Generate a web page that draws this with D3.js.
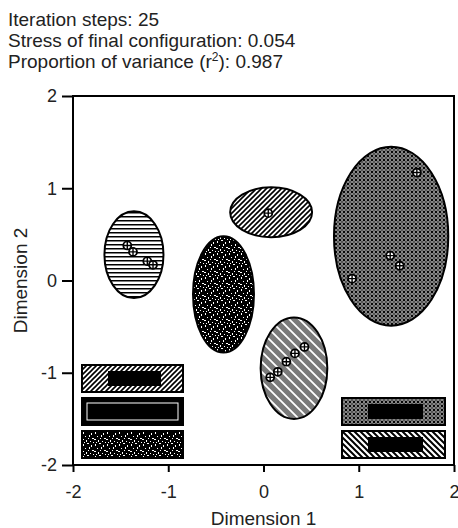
<!DOCTYPE html>
<html>
<head>
<meta charset="utf-8">
<script src="https://cdn.jsdelivr.net/npm/d3@7"></script>
<style>
  body { margin: 0; background: #fff; }
  svg { display: block; font-family: "Liberation Sans", Arial, sans-serif; }
</style>
</head>
<body>
<div id="chart-container"></div>
<script>
// Summary text above the plot
const infoLines = [
  "Iteration steps: 25",
  "Stress of final configuration: 0.054",
  ["Proportion of variance (r", "2", "): 0.987"]
];

const ticks = [-2, -1, 0, 1, 2];

// Cluster ellipses (centre and half-widths in dimension units)
const clusterPattern = ["hstripe", "speckle", "diag", "mesh", "dither"];
const clusterX  = [-1.36, -0.42, 0.08, 1.34, 0.32];
const clusterY  = [0.28, -0.15, 0.74, 0.48, -0.95];
const clusterRx = [0.31, 0.32, 0.43, 0.60, 0.35];
const clusterRy = [0.47, 0.63, 0.27, 0.97, 0.55];

// Stimulus points inside the clusters
const pointX = [-1.43, -1.37, -1.22, -1.16, 0.05, 1.61, 1.33, 1.43, 0.93, 0.07, 0.15, 0.24, 0.33, 0.43];
const pointY = [0.38, 0.31, 0.21, 0.17, 0.73, 1.17, 0.27, 0.16, 0.02, -1.05, -0.99, -0.88, -0.79, -0.72];

// Legend boxes (garbled labels in the original), two columns
const legendPattern = ["diag", "hstripe", "speckle", "mesh", "rdiag"];
const legendCol = [0, 0, 0, 1, 1];
const legendRow = [0, 1, 2, 1, 2];

const width = 458, height = 528;
const svg = d3.select("#chart-container").append("svg")
  .attr("width", width).attr("height", height);

const x = d3.scaleLinear().domain([-2, 2]).range([73, 454]);
const y = d3.scaleLinear().domain([-2, 2]).range([465, 96]);

// ---- patterns ----
const defs = svg.append("defs");

function tile(id, w, h) {
  return defs.append("pattern").attr("id", id)
    .attr("patternUnits", "userSpaceOnUse").attr("width", w).attr("height", h);
}

let p = tile("hstripe", 4, 4);
p.append("rect").attr("width", 4).attr("height", 4).attr("fill", "#fff");
p.append("rect").attr("width", 4).attr("height", 1.5).attr("fill", "#000");

p = tile("diag", 5, 5);
p.append("rect").attr("width", 5).attr("height", 5).attr("fill", "#fff");
p.append("path").attr("d", "M-1,6 L6,-1 M-1,1 L1,-1 M4,6 L6,4")
  .attr("stroke", "#000").attr("stroke-width", 1.6);

p = tile("rdiag", 6, 6);
p.append("rect").attr("width", 6).attr("height", 6).attr("fill", "#fff");
p.append("path").attr("d", "M-1,-1 L7,7 M-1,5 L1,7 M5,-1 L7,1")
  .attr("stroke", "#000").attr("stroke-width", 2);

p = tile("speckle", 12, 12);
p.append("rect").attr("width", 12).attr("height", 12).attr("fill", "#000");
[[1, 1, 1, 2], [5, 0, 2, 1], [9, 2, 1, 2], [3, 5, 1, 1], [7, 4, 1, 2], [10, 7, 2, 1],
 [0, 8, 2, 1], [4, 9, 1, 2], [8, 10, 1, 1], [6, 7, 1, 1], [2, 11, 1, 1], [11, 11, 1, 1]]
  .forEach(r => p.append("rect").attr("x", r[0]).attr("y", r[1])
    .attr("width", r[2]).attr("height", r[3]).attr("fill", "#fff"));

p = tile("mesh", 4, 4);
p.append("rect").attr("width", 4).attr("height", 4).attr("fill", "#000");
p.append("circle").attr("cx", 2).attr("cy", 2).attr("r", 1.4)
  .attr("fill", "none").attr("stroke", "#fff").attr("stroke-width", 0.7);

p = tile("dither", 10, 10);
p.append("rect").attr("width", 10).attr("height", 10).attr("fill", "#7a7a7a");
p.append("path").attr("d", "M-1,-1 L11,11 M-1,9 L1,11 M9,-1 L11,1")
  .attr("stroke", "#fff").attr("stroke-width", 1.8);

// ---- summary text ----
const info = svg.append("g").attr("font-size", 19).attr("fill", "#222");
info.append("text").attr("x", 8).attr("y", 26).text(infoLines[0]);
info.append("text").attr("x", 8).attr("y", 47).text(infoLines[1]);
const t3 = info.append("text").attr("x", 8).attr("y", 68);
t3.append("tspan").text(infoLines[2][0]);
t3.append("tspan").attr("font-size", 12).attr("dy", -7).text(infoLines[2][1]);
t3.append("tspan").attr("dy", 7).text(infoLines[2][2]);

// ---- clusters ----
const clusters = clusterX.map((cx, i) => ({
  cx, cy: clusterY[i], rx: clusterRx[i], ry: clusterRy[i], pat: clusterPattern[i]
}));

svg.append("g").selectAll("ellipse").data(clusters).join("ellipse")
  .attr("cx", d => x(d.cx))
  .attr("cy", d => y(d.cy))
  .attr("rx", d => x(d.rx) - x(0))
  .attr("ry", d => y(0) - y(d.ry))
  .attr("fill", d => `url(#${d.pat})`)
  .attr("stroke", "#000").attr("stroke-width", 2);

// ---- points ----
const pts = svg.append("g").selectAll("g").data(pointX.map((px, i) => [px, pointY[i]])).join("g")
  .attr("transform", d => `translate(${x(d[0])},${y(d[1])})`);
pts.append("circle").attr("r", 4).attr("fill", "#fff").attr("stroke", "#000").attr("stroke-width", 1.8);
pts.append("path").attr("d", "M-4,0H4M0,-4V4").attr("stroke", "#000").attr("stroke-width", 1.4);

// ---- legend boxes ----
const colX = [82, 342], boxW = [101, 103];
const rowY = [365, 398, 431], boxH = 27;
const legend = svg.append("g").selectAll("g").data(legendPattern.map((pat, i) => ({
  pat, col: legendCol[i], row: legendRow[i]
}))).join("g")
  .attr("transform", d => `translate(${colX[d.col]},${rowY[d.row]})`);
legend.append("rect")
  .attr("width", d => boxW[d.col]).attr("height", boxH)
  .attr("fill", d => d.pat === "hstripe" ? "#000" : `url(#${d.pat})`)
  .attr("stroke", "#000").attr("stroke-width", 2);
const wide = d => d.pat === "speckle" || d.pat === "hstripe";
legend.append("rect")
  .attr("x", d => wide(d) ? 4 : 26)
  .attr("y", d => wide(d) ? 4 : 6)
  .attr("width", d => wide(d) ? boxW[d.col] - 8 : boxW[d.col] - 48)
  .attr("height", d => wide(d) ? boxH - 8 : boxH - 12)
  .attr("fill", d => d.pat === "speckle" ? "url(#speckle)" : "#000");
legend.filter(d => d.pat === "hstripe").append("rect")
  .attr("x", 5).attr("y", 5).attr("width", 91).attr("height", 17)
  .attr("fill", "none").attr("stroke", "#fff").attr("stroke-width", 1);

// ---- frame & axes ----
svg.append("rect").attr("x", x(-2)).attr("y", y(2))
  .attr("width", x(2) - x(-2)).attr("height", y(-2) - y(2))
  .attr("fill", "none").attr("stroke", "#000").attr("stroke-width", 2);

const xAxis = svg.append("g").attr("transform", `translate(0,${y(-2)})`)
  .call(d3.axisBottom(x).tickValues(ticks).tickSize(7).tickPadding(13).tickFormat(d3.format("d")));
const yAxis = svg.append("g").attr("transform", `translate(${x(-2)},0)`)
  .call(d3.axisLeft(y).tickValues(ticks).tickSize(11).tickPadding(5).tickFormat(d3.format("d")));
[xAxis, yAxis].forEach(a => {
  a.select(".domain").remove();
  a.selectAll(".tick line").attr("stroke", "#000").attr("stroke-width", 2);
  a.selectAll(".tick text").attr("font-size", 18).attr("fill", "#222")
    .attr("font-family", "'Liberation Sans', Arial, sans-serif")
    .text(d => d < 0 ? "-" + Math.abs(d) : d);
});
// keep the last x label inside the window
xAxis.selectAll(".tick text").filter(d => d === 2).attr("text-anchor", "end").attr("dx", 5);

svg.append("text").attr("x", x(0)).attr("y", 525).attr("text-anchor", "middle")
  .attr("font-size", 19).attr("fill", "#222").text("Dimension 1");
svg.append("text").attr("transform", `translate(27,${y(0)}) rotate(-90)`)
  .attr("text-anchor", "middle").attr("font-size", 19).attr("fill", "#222").text("Dimension 2");
</script>
</body>
</html>
